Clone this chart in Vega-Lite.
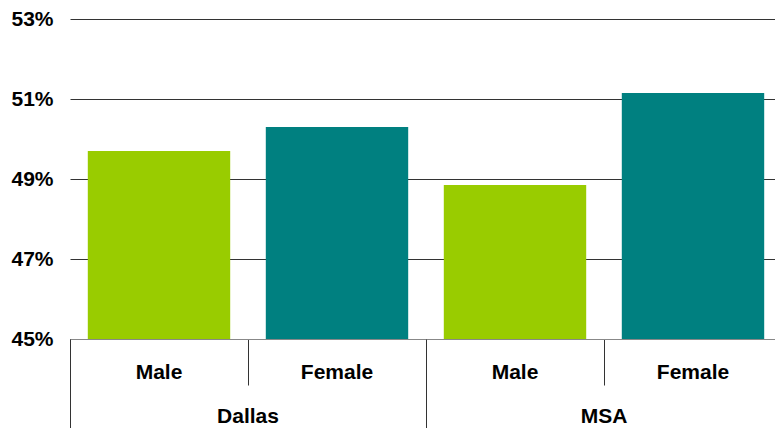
{
  "$schema": "https://vega.github.io/schema/vega-lite/v6.json",
  "autosize": {"type": "none"},
  "width": 712,
  "height": 320,
  "padding": {"left": 70, "top": 19, "right": 0, "bottom": 89},
  "background": "white",
  "config": {
    "view": {"stroke": null},
    "font": "Liberation Sans",
    "axis": {"labelFont": "Liberation Sans", "labelFontWeight": "bold", "labelColor": "black", "labelFontSize": 21}
  },
  "data": {
    "values": [
      {"region": "Dallas", "gender": "Male", "key": "Dallas Male", "value": 49.7},
      {"region": "Dallas", "gender": "Female", "key": "Dallas Female", "value": 50.3},
      {"region": "MSA", "gender": "Male", "key": "MSA Male", "value": 48.85},
      {"region": "MSA", "gender": "Female", "key": "MSA Female", "value": 51.15}
    ]
  },
  "layer": [
    {
      "mark": {"type": "bar", "clip": true},
      "encoding": {
        "x": {
          "field": "key", "type": "nominal", "sort": null,
          "scale": {"type": "band", "paddingInner": 0.2, "paddingOuter": 0.1},
          "axis": {
            "orient": "bottom", "title": null, "labelAngle": 0,
            "labelExpr": "split(datum.label, ' ')[1]",
            "domain": true, "domainColor": "#888888", "domainWidth": 1,
            "ticks": true, "tickSize": 46, "tickColor": "#333333", "bandPosition": -0.125,
            "labelPadding": -24, "labelBaseline": "top"
          }
        },
        "y": {
          "field": "value", "type": "quantitative",
          "scale": {"domain": [45, 53], "zero": false},
          "axis": {
            "title": null, "values": [45, 47, 49, 51, 53],
            "labelExpr": "datum.value + '%'",
            "domain": false, "ticks": false, "labelPadding": 17,
            "grid": true,
            "gridColor": {"condition": {"test": "datum.value == 45", "value": "#888888"}, "value": "#333333"},
            "gridWidth": 1
          }
        },
        "y2": {"datum": 45},
        "color": {
          "field": "gender", "type": "nominal",
          "scale": {"domain": ["Male", "Female"], "range": ["#99CC00", "#008080"]},
          "legend": null
        }
      }
    },
    {
      "mark": {"type": "point", "opacity": 0},
      "encoding": {
        "x": {
          "field": "region", "type": "nominal", "sort": null,
          "scale": {"type": "band", "paddingInner": 0, "paddingOuter": 0},
          "axis": {
            "orient": "bottom", "title": null, "labelAngle": 0,
            "domain": false, "ticks": true, "tickSize": 89, "tickColor": "#333333", "bandPosition": 0,
            "labelPadding": -23, "labelBaseline": "top"
          }
        },
        "y": {"field": "value", "type": "quantitative"}
      }
    }
  ],
  "resolve": {"scale": {"x": "independent"}, "axis": {"x": "independent"}}
}
